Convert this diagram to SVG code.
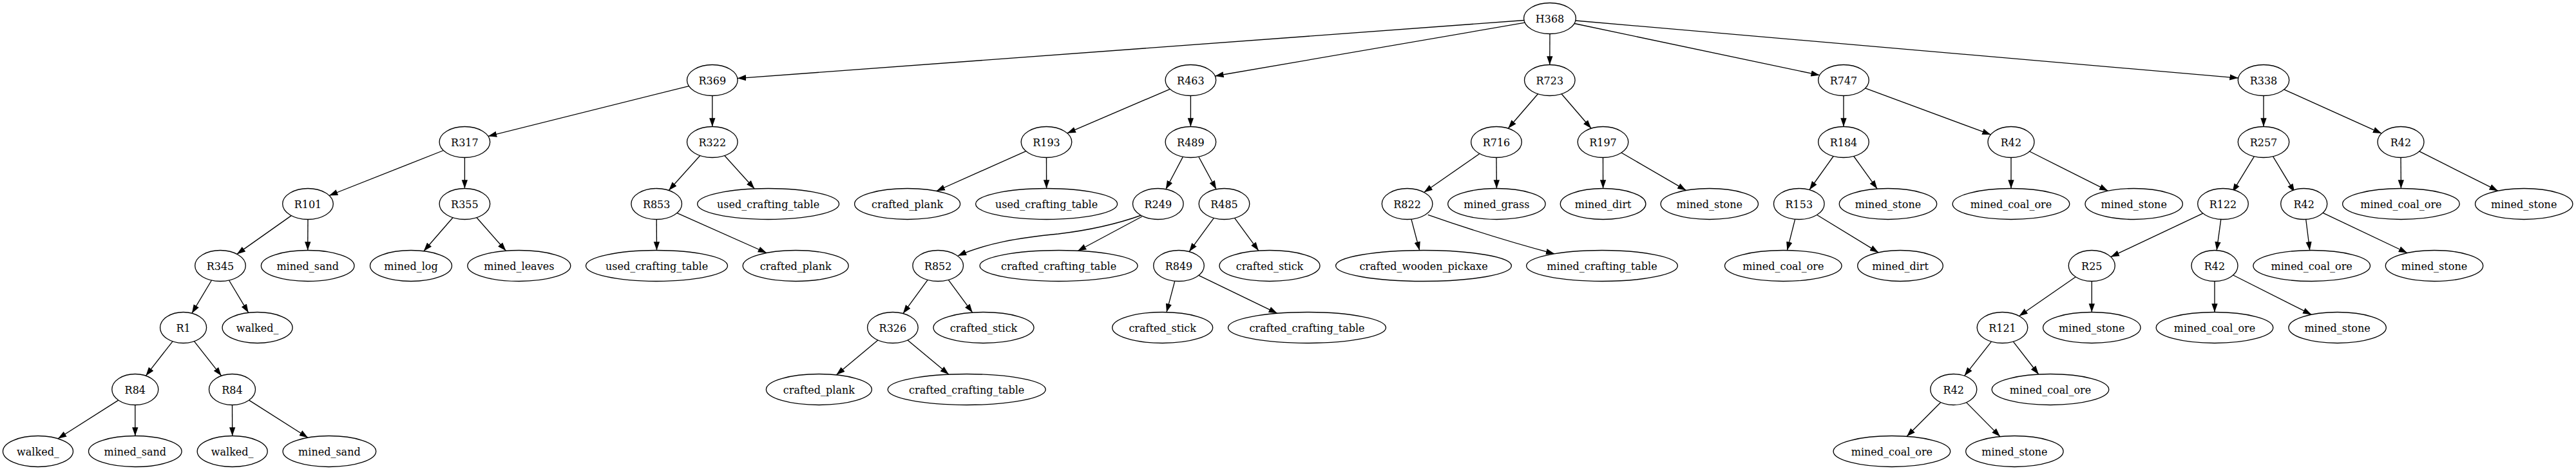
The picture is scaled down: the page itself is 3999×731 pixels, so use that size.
<svg xmlns="http://www.w3.org/2000/svg" width="3999" height="731" viewBox="0 0 3999 731">
<style>
ellipse{fill:#fff;stroke:#000;stroke-width:1.33}
text{font-family:"DejaVu Serif","Liberation Serif",serif;font-size:16px;text-anchor:middle;fill:#000}
.e line,.e path{stroke:#000;stroke-width:1.33;fill:none;marker-end:url(#arr)}
</style>
<defs>
<marker id="arr" viewBox="0 -5 14 10" refX="13.33" refY="0" markerWidth="14" markerHeight="10" markerUnits="userSpaceOnUse" orient="auto"><path d="M0,-4.67L13.33,0L0,4.67z" fill="#000"/></marker>
</defs>
<rect width="3999" height="731" fill="#fff"/>
<g class="e" id="edges">
<line x1="2365.9" y1="31.5" x2="1144.8" y2="121.6"/>
<line x1="2367.2" y1="35.2" x2="1886.2" y2="118"/>
<line x1="2406" y1="52.5" x2="2405.8" y2="100.5"/>
<line x1="2444.1" y1="36.5" x2="2824.8" y2="116.7"/>
<line x1="2446" y1="32" x2="3474.7" y2="121.1"/>
<line x1="1069.4" y1="133.6" x2="757.8" y2="211.4"/>
<line x1="1105.8" y1="148.5" x2="1105.8" y2="196.5"/>
<line x1="688.4" y1="233.5" x2="511" y2="303.5"/>
<line x1="721.4" y1="244.5" x2="721.4" y2="292.5"/>
<line x1="452.3" y1="334.6" x2="367.7" y2="394.4"/>
<line x1="478" y1="340.5" x2="477.7" y2="388.5"/>
<line x1="328.5" y1="435" x2="297.9" y2="486.2"/>
<line x1="355.5" y1="435" x2="385.7" y2="485.3"/>
<line x1="268" y1="529.8" x2="226.4" y2="583.2"/>
<line x1="301.4" y1="529.7" x2="343.7" y2="583.3"/>
<line x1="183.8" y1="621.1" x2="90" y2="680.8"/>
<line x1="209.8" y1="628.5" x2="209.8" y2="676.5"/>
<line x1="360.5" y1="628.5" x2="360.7" y2="676.5"/>
<line x1="386.6" y1="621.1" x2="478" y2="679.2"/>
<line x1="703" y1="337.7" x2="657.8" y2="389.7"/>
<line x1="740" y1="337.7" x2="785.4" y2="389.3"/>
<line x1="1086.8" y1="241.5" x2="1038.2" y2="295.5"/>
<line x1="1124.8" y1="241.5" x2="1171.3" y2="293"/>
<line x1="1019.2" y1="340.5" x2="1019.5" y2="388.5"/>
<line x1="1051" y1="330.6" x2="1190.1" y2="392.5"/>
<line x1="1816.2" y1="138.3" x2="1656.7" y2="206.7"/>
<line x1="1848.4" y1="148.5" x2="1848.4" y2="196.5"/>
<line x1="1592.7" y1="234.6" x2="1453.7" y2="296.5"/>
<line x1="1624.5" y1="244.5" x2="1624.6" y2="292.5"/>
<line x1="1836.4" y1="243.4" x2="1809.8" y2="293.7"/>
<line x1="1860.8" y1="243.3" x2="1888.1" y2="293.7"/>
<path d="M1772,334 C1733,348 1693,357 1643,363 C1580,369 1530,378 1487,397"/>
<line x1="1773" y1="336" x2="1673" y2="389.5"/>
<line x1="1440.2" y1="434.4" x2="1401.9" y2="486.6"/>
<line x1="1472.3" y1="434.4" x2="1509.7" y2="485.1"/>
<line x1="1362.8" y1="527.9" x2="1298.4" y2="581.8"/>
<line x1="1409.1" y1="527.9" x2="1472.8" y2="581.1"/>
<line x1="1884.4" y1="338.4" x2="1846.1" y2="390.6"/>
<line x1="1916.6" y1="338.4" x2="1953.8" y2="389.1"/>
<line x1="1823.8" y1="436.2" x2="1811" y2="484.6"/>
<line x1="1860.8" y1="427.4" x2="1982.9" y2="486.3"/>
<line x1="2387.5" y1="145.7" x2="2341.3" y2="199.3"/>
<line x1="2424.1" y1="145.7" x2="2470.2" y2="199.3"/>
<line x1="2297" y1="238.5" x2="2210.6" y2="298.5"/>
<line x1="2323" y1="244.5" x2="2323.4" y2="292.5"/>
<line x1="2190.9" y1="340.2" x2="2203.7" y2="388.5"/>
<path d="M2216.7,333.3 C2260,348.5 2330,372 2413.3,394"/>
<line x1="2488.5" y1="244.5" x2="2488.6" y2="292.5"/>
<line x1="2517" y1="237" x2="2617.5" y2="295.4"/>
<line x1="2862" y1="148.5" x2="2862" y2="196.5"/>
<line x1="2895.6" y1="136.9" x2="3090.5" y2="208.9"/>
<line x1="2846.2" y1="242.5" x2="2809" y2="294.5"/>
<line x1="2877.8" y1="242.5" x2="2914.2" y2="293.1"/>
<line x1="2786.7" y1="340.2" x2="2774.4" y2="388.6"/>
<line x1="2820.6" y1="333.5" x2="2916.2" y2="391.9"/>
<line x1="3122" y1="244.5" x2="3122" y2="292.5"/>
<line x1="3150.7" y1="235" x2="3272.4" y2="296.2"/>
<line x1="3514" y1="148.5" x2="3514" y2="196.5"/>
<line x1="3545.8" y1="138.9" x2="3697.2" y2="207.1"/>
<line x1="3499.4" y1="242.8" x2="3465.6" y2="298.2"/>
<line x1="3528.6" y1="242.8" x2="3562.3" y2="298.5"/>
<line x1="3727" y1="244.5" x2="3727.4" y2="292.5"/>
<line x1="3755.8" y1="234.9" x2="3877.8" y2="296.2"/>
<line x1="3419.9" y1="331.2" x2="3276.7" y2="398.7"/>
<line x1="3447.8" y1="340.4" x2="3441.2" y2="388.6"/>
<line x1="3579.7" y1="340.4" x2="3585.7" y2="388.5"/>
<line x1="3606" y1="330.4" x2="3737" y2="392.5"/>
<line x1="3222.3" y1="429.8" x2="3134.5" y2="490.5"/>
<line x1="3247.3" y1="436.5" x2="3247.3" y2="484.5"/>
<line x1="3438" y1="436.5" x2="3438" y2="484.5"/>
<line x1="3466.7" y1="427" x2="3588.3" y2="488.2"/>
<line x1="3091.5" y1="530.1" x2="3049.6" y2="583.3"/>
<line x1="3125.3" y1="530.2" x2="3164.8" y2="581"/>
<line x1="3012.8" y1="624.5" x2="2960.1" y2="677.3"/>
<line x1="3052.6" y1="624.6" x2="3105" y2="677.6"/>
</g>
<g id="n_H368"><ellipse cx="2406" cy="28.5" rx="40.4" ry="24"/><text x="2406" y="34.5">H368</text></g>
<g id="n_R369"><ellipse cx="1105.8" cy="124.5" rx="39.3" ry="24"/><text x="1105.8" y="130.5">R369</text></g>
<g id="n_R463"><ellipse cx="1848.4" cy="124.5" rx="39.3" ry="24"/><text x="1848.4" y="130.5">R463</text></g>
<g id="n_R723"><ellipse cx="2405.8" cy="124.5" rx="39.3" ry="24"/><text x="2405.8" y="130.5">R723</text></g>
<g id="n_R747"><ellipse cx="2862" cy="124.5" rx="39.3" ry="24"/><text x="2862" y="130.5">R747</text></g>
<g id="n_R338"><ellipse cx="3514" cy="124.5" rx="39.7" ry="24"/><text x="3514" y="130.5">R338</text></g>
<g id="n_R317"><ellipse cx="721.4" cy="220.5" rx="39.3" ry="24"/><text x="721.4" y="226.5">R317</text></g>
<g id="n_R322"><ellipse cx="1105.8" cy="220.5" rx="39.3" ry="24"/><text x="1105.8" y="226.5">R322</text></g>
<g id="n_R193"><ellipse cx="1624.5" cy="220.5" rx="39.3" ry="24"/><text x="1624.5" y="226.5">R193</text></g>
<g id="n_R489"><ellipse cx="1848.4" cy="220.5" rx="39.3" ry="24"/><text x="1848.4" y="226.5">R489</text></g>
<g id="n_R716"><ellipse cx="2323" cy="220.5" rx="39.3" ry="24"/><text x="2323" y="226.5">R716</text></g>
<g id="n_R197"><ellipse cx="2488.5" cy="220.5" rx="39.3" ry="24"/><text x="2488.5" y="226.5">R197</text></g>
<g id="n_R184"><ellipse cx="2862" cy="220.5" rx="39.3" ry="24"/><text x="2862" y="226.5">R184</text></g>
<g id="n_R42a"><ellipse cx="3122" cy="220.5" rx="36" ry="24"/><text x="3122" y="226.5">R42</text></g>
<g id="n_R257"><ellipse cx="3514" cy="220.5" rx="39.7" ry="24"/><text x="3514" y="226.5">R257</text></g>
<g id="n_R42b"><ellipse cx="3727" cy="220.5" rx="36" ry="24"/><text x="3727" y="226.5">R42</text></g>
<g id="n_R101"><ellipse cx="478" cy="316.5" rx="39.3" ry="24"/><text x="478" y="322.5">R101</text></g>
<g id="n_R355"><ellipse cx="721.4" cy="316.5" rx="39.3" ry="24"/><text x="721.4" y="322.5">R355</text></g>
<g id="n_R853"><ellipse cx="1019.2" cy="316.5" rx="39.3" ry="24"/><text x="1019.2" y="322.5">R853</text></g>
<g id="n_uct1"><ellipse cx="1192.6" cy="316.5" rx="110" ry="24"/><text x="1192.6" y="322.5">used_crafting_table</text></g>
<g id="n_cp1"><ellipse cx="1408.6" cy="316.5" rx="82" ry="24"/><text x="1408.6" y="322.5">crafted_plank</text></g>
<g id="n_uct2"><ellipse cx="1624.6" cy="316.5" rx="110" ry="24"/><text x="1624.6" y="322.5">used_crafting_table</text></g>
<g id="n_R249"><ellipse cx="1797.8" cy="316.5" rx="39.3" ry="24"/><text x="1797.8" y="322.5">R249</text></g>
<g id="n_R485"><ellipse cx="1900.5" cy="316.5" rx="39.3" ry="24"/><text x="1900.5" y="322.5">R485</text></g>
<g id="n_R822"><ellipse cx="2184.6" cy="316.5" rx="39.3" ry="24"/><text x="2184.6" y="322.5">R822</text></g>
<g id="n_mg"><ellipse cx="2323.4" cy="316.5" rx="75.7" ry="24"/><text x="2323.4" y="322.5">mined_grass</text></g>
<g id="n_md1"><ellipse cx="2488.6" cy="316.5" rx="66.3" ry="24"/><text x="2488.6" y="322.5">mined_dirt</text></g>
<g id="n_ms1"><ellipse cx="2653.8" cy="316.5" rx="75.7" ry="24"/><text x="2653.8" y="322.5">mined_stone</text></g>
<g id="n_R153"><ellipse cx="2792.8" cy="316.5" rx="39.3" ry="24"/><text x="2792.8" y="322.5">R153</text></g>
<g id="n_ms2"><ellipse cx="2931" cy="316.5" rx="75.7" ry="24"/><text x="2931" y="322.5">mined_stone</text></g>
<g id="n_mco1"><ellipse cx="3122" cy="316.5" rx="90.8" ry="24"/><text x="3122" y="322.5">mined_coal_ore</text></g>
<g id="n_ms3"><ellipse cx="3312.7" cy="316.5" rx="75.7" ry="24"/><text x="3312.7" y="322.5">mined_stone</text></g>
<g id="n_R122"><ellipse cx="3451" cy="316.5" rx="39.3" ry="24"/><text x="3451" y="322.5">R122</text></g>
<g id="n_R42c"><ellipse cx="3576.7" cy="316.5" rx="36" ry="24"/><text x="3576.7" y="322.5">R42</text></g>
<g id="n_mco2"><ellipse cx="3727.4" cy="316.5" rx="90.8" ry="24"/><text x="3727.4" y="322.5">mined_coal_ore</text></g>
<g id="n_ms4"><ellipse cx="3918.2" cy="316.5" rx="75.7" ry="24"/><text x="3918.2" y="322.5">mined_stone</text></g>
<g id="n_R345"><ellipse cx="342" cy="412.5" rx="39.3" ry="24"/><text x="342" y="418.5">R345</text></g>
<g id="n_msa1"><ellipse cx="477.7" cy="412.5" rx="72.3" ry="24"/><text x="477.7" y="418.5">mined_sand</text></g>
<g id="n_mlog"><ellipse cx="638" cy="412.5" rx="63.5" ry="24"/><text x="638" y="418.5">mined_log</text></g>
<g id="n_mlea"><ellipse cx="805.8" cy="412.5" rx="80" ry="24"/><text x="805.8" y="418.5">mined_leaves</text></g>
<g id="n_uct3"><ellipse cx="1019.5" cy="412.5" rx="110" ry="24"/><text x="1019.5" y="418.5">used_crafting_table</text></g>
<g id="n_cp2"><ellipse cx="1235.2" cy="412.5" rx="82" ry="24"/><text x="1235.2" y="418.5">crafted_plank</text></g>
<g id="n_R852"><ellipse cx="1456.2" cy="412.5" rx="39.3" ry="24"/><text x="1456.2" y="418.5">R852</text></g>
<g id="n_cct1"><ellipse cx="1643.6" cy="412.5" rx="122.5" ry="24"/><text x="1643.6" y="418.5">crafted_crafting_table</text></g>
<g id="n_R849"><ellipse cx="1830" cy="412.5" rx="39.3" ry="24"/><text x="1830" y="418.5">R849</text></g>
<g id="n_cs1"><ellipse cx="1971" cy="412.5" rx="78" ry="24"/><text x="1971" y="418.5">crafted_stick</text></g>
<g id="n_cwp"><ellipse cx="2210" cy="412.5" rx="136.4" ry="24"/><text x="2210" y="418.5">crafted_wooden_pickaxe</text></g>
<g id="n_mct"><ellipse cx="2487" cy="412.5" rx="117.4" ry="24"/><text x="2487" y="418.5">mined_crafting_table</text></g>
<g id="n_mco3"><ellipse cx="2768.3" cy="412.5" rx="90.8" ry="24"/><text x="2768.3" y="418.5">mined_coal_ore</text></g>
<g id="n_md2"><ellipse cx="2950" cy="412.5" rx="66.3" ry="24"/><text x="2950" y="418.5">mined_dirt</text></g>
<g id="n_R25"><ellipse cx="3247.3" cy="412.5" rx="36" ry="24"/><text x="3247.3" y="418.5">R25</text></g>
<g id="n_R42d"><ellipse cx="3438" cy="412.5" rx="36" ry="24"/><text x="3438" y="418.5">R42</text></g>
<g id="n_mco4"><ellipse cx="3588.7" cy="412.5" rx="90.8" ry="24"/><text x="3588.7" y="418.5">mined_coal_ore</text></g>
<g id="n_ms5"><ellipse cx="3779" cy="412.5" rx="75.7" ry="24"/><text x="3779" y="418.5">mined_stone</text></g>
<g id="n_R1"><ellipse cx="284.6" cy="508.5" rx="36" ry="24"/><text x="284.6" y="514.5">R1</text></g>
<g id="n_w1"><ellipse cx="399.6" cy="508.5" rx="54.5" ry="24"/><text x="399.6" y="514.5">walked_</text></g>
<g id="n_R326"><ellipse cx="1385.9" cy="508.5" rx="39.3" ry="24"/><text x="1385.9" y="514.5">R326</text></g>
<g id="n_cs2"><ellipse cx="1527" cy="508.5" rx="78" ry="24"/><text x="1527" y="514.5">crafted_stick</text></g>
<g id="n_cs3"><ellipse cx="1804.7" cy="508.5" rx="78" ry="24"/><text x="1804.7" y="514.5">crafted_stick</text></g>
<g id="n_cct2"><ellipse cx="2029" cy="508.5" rx="122.5" ry="24"/><text x="2029" y="514.5">crafted_crafting_table</text></g>
<g id="n_R121"><ellipse cx="3108.5" cy="508.5" rx="39.3" ry="24"/><text x="3108.5" y="514.5">R121</text></g>
<g id="n_ms6"><ellipse cx="3247.3" cy="508.5" rx="75.7" ry="24"/><text x="3247.3" y="514.5">mined_stone</text></g>
<g id="n_mco5"><ellipse cx="3438" cy="508.5" rx="90.8" ry="24"/><text x="3438" y="514.5">mined_coal_ore</text></g>
<g id="n_ms7"><ellipse cx="3628.6" cy="508.5" rx="75.7" ry="24"/><text x="3628.6" y="514.5">mined_stone</text></g>
<g id="n_R84a"><ellipse cx="209.8" cy="604.5" rx="36" ry="24"/><text x="209.8" y="610.5">R84</text></g>
<g id="n_R84b"><ellipse cx="360.5" cy="604.5" rx="36" ry="24"/><text x="360.5" y="610.5">R84</text></g>
<g id="n_cp3"><ellipse cx="1271.4" cy="604.5" rx="82" ry="24"/><text x="1271.4" y="610.5">crafted_plank</text></g>
<g id="n_cct3"><ellipse cx="1500.7" cy="604.5" rx="122.5" ry="24"/><text x="1500.7" y="610.5">crafted_crafting_table</text></g>
<g id="n_R42e"><ellipse cx="3032.8" cy="604.5" rx="36" ry="24"/><text x="3032.8" y="610.5">R42</text></g>
<g id="n_mco6"><ellipse cx="3183" cy="604.5" rx="90.8" ry="24"/><text x="3183" y="610.5">mined_coal_ore</text></g>
<g id="n_w2"><ellipse cx="59" cy="700.5" rx="54.5" ry="24"/><text x="59" y="706.5">walked_</text></g>
<g id="n_msa2"><ellipse cx="209.8" cy="700.5" rx="72.3" ry="24"/><text x="209.8" y="706.5">mined_sand</text></g>
<g id="n_w3"><ellipse cx="360.7" cy="700.5" rx="54.5" ry="24"/><text x="360.7" y="706.5">walked_</text></g>
<g id="n_msa3"><ellipse cx="511.4" cy="700.5" rx="72.3" ry="24"/><text x="511.4" y="706.5">mined_sand</text></g>
<g id="n_mco7"><ellipse cx="2936.9" cy="700.5" rx="90.8" ry="24"/><text x="2936.9" y="706.5">mined_coal_ore</text></g>
<g id="n_ms8"><ellipse cx="3127.4" cy="700.5" rx="75.7" ry="24"/><text x="3127.4" y="706.5">mined_stone</text></g>
</svg>
